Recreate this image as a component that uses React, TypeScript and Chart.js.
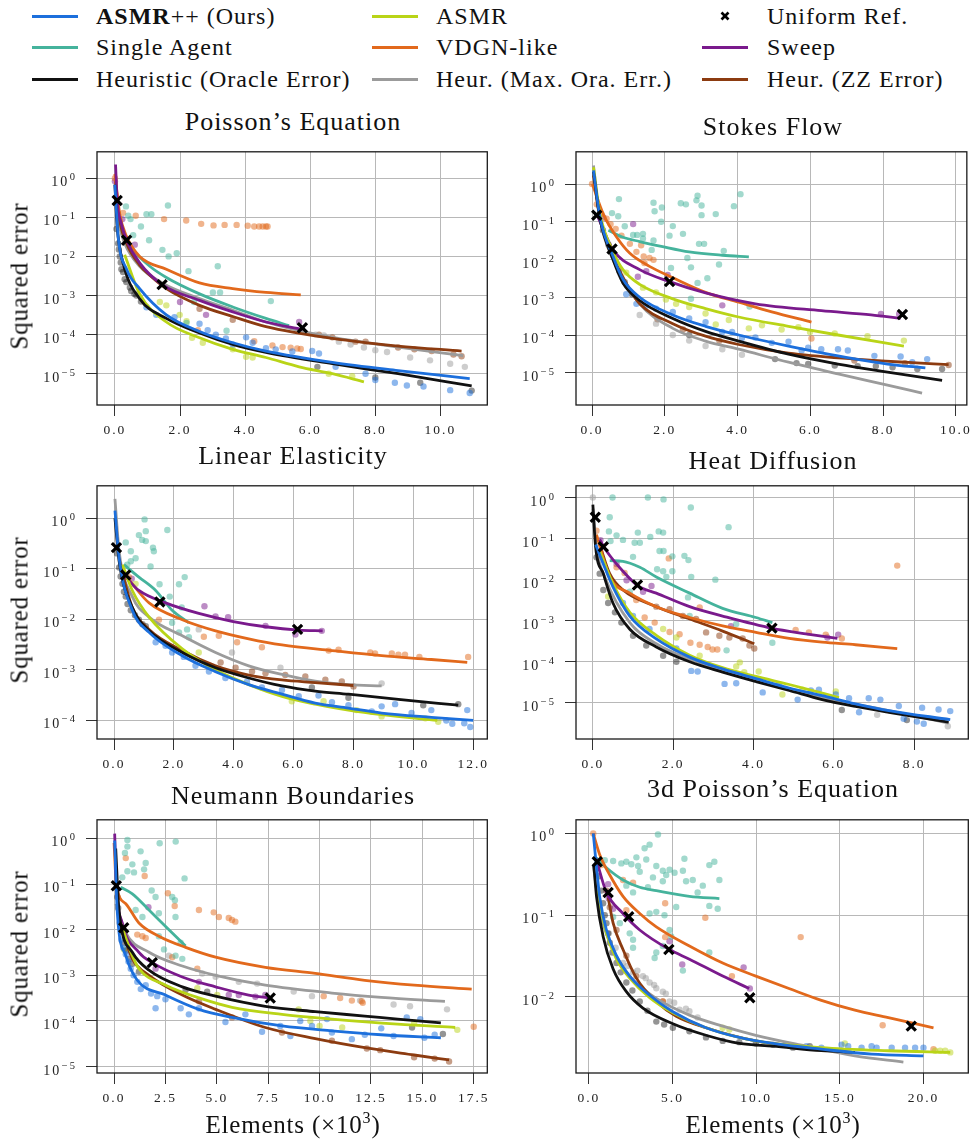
import React, { useEffect, useRef } from "react";
import { Chart, registerables } from "chart.js";

Chart.register(...registerables);

type Pt = [number, number];

// ---------------- methods ----------------
const METHOD_LABELS = [
  "ASMR++ (Ours)",
  "Single Agent",
  "Heuristic (Oracle Error)",
  "ASMR",
  "VDGN-like",
  "Heur. (Max. Ora. Err.)",
  "Sweep",
  "Heur. (ZZ Error)",
];
const METHOD_COLORS = ["#1c6fdc", "#45b39c", "#111111", "#b9d417", "#e2691c", "#9b9b9b", "#7a1a8c", "#8c3b10"];
const UNIFORM_LABEL = "Uniform Ref.";

// ---------------- Poisson's Equation ----------------
const P1_X_TICKS = [0, 2, 4, 6, 8, 10];
const P1_Y_EXPS = [0, -1, -2, -3, -4, -5];
const P1_FIT_ASMRPP: Pt[] = [[0, 0.68], [0.1, 0.032], [0.36, 0.0047], [0.76, 0.0015], [1.58, 3.2e-4], [2.6, 1.2e-4], [3.62, 6.2e-5], [4.64, 3.8e-5], [6.68, 1.95e-5], [8.7, 1.2e-5], [10.9, 7.5e-6]];
const P1_FIT_SINGLE: Pt[] = [[0.15, 0.09], [0.25, 0.038], [0.56, 0.0146], [1.07, 0.0056], [1.58, 0.0029], [2.6, 0.0011], [3.62, 5.1e-4], [4.64, 2.6e-4], [5.35, 1.7e-4]];
const P1_FIT_ORACLE: Pt[] = [[0, 0.68], [0.07, 0.056], [0.25, 0.0068], [0.76, 8.3e-4], [1.58, 2.6e-4], [2.6, 1.1e-4], [3.62, 5.6e-5], [4.64, 3.5e-5], [6.68, 1.8e-5], [8.7, 1e-5], [10.96, 4.9e-6]];
const P1_FIT_ASMR: Pt[] = [[0.3, 0.011], [0.76, 0.0011], [1.58, 2.1e-4], [2.6, 8.3e-5], [3.62, 4.2e-5], [4.64, 2.6e-5], [5.66, 1.5e-5], [6.68, 1.0e-5], [7.65, 6.2e-6]];
const P1_FIT_VDGN: Pt[] = [[0, 1.3], [0.15, 0.12], [0.36, 0.032], [0.76, 0.01], [1.58, 0.0047], [2.6, 0.0021], [3.62, 0.0015], [4.64, 0.0012], [5.71, 0.00104]];
const P1_FIT_MAXORA: Pt[] = [[0.03, 0.12], [0.3, 0.0215], [0.76, 0.0056], [1.45, 0.0021], [2.6, 8.3e-4], [3.62, 4.2e-4], [4.64, 2.1e-4], [5.66, 1.26e-4], [6.68, 8.5e-5], [8.7, 4.8e-5], [10.7, 2.9e-5]];
const P1_FIT_SWEEP: Pt[] = [[0.02, 2.24], [0.07, 0.27], [0.2, 0.068], [0.36, 0.026], [0.76, 0.0068], [1.45, 0.0019], [2.6, 7.5e-4], [3.62, 3.8e-4], [4.64, 2.1e-4], [5.76, 1.35e-4]];
const P1_FIT_ZZ: Pt[] = [[0.02, 0.83], [0.15, 0.083], [0.36, 0.0215], [0.76, 0.006], [1.07, 0.0033], [1.58, 0.0015], [2.6, 5.6e-4], [3.62, 2.9e-4], [4.64, 1.6e-4], [6.68, 8e-5], [8.7, 5.1e-5], [10.65, 3.8e-5]];
const P1_UNIFORM: Pt[] = [[0.07, 0.27], [0.36, 0.026], [1.45, 0.0019], [5.76, 1.5e-4]];
const P1_PTS_ASMRPP: Pt[] = [[0.97, 5e-4], [1.27, 3.2e-4], [1.83, 2.8e-4], [2.6, 1.9e-4], [2.85, 1.3e-4], [3.1, 1e-4], [3.41, 8e-5], [3.62, 5.6e-5], [4.03, 8.5e-5], [4.23, 6.2e-5], [4.64, 4.5e-5], [4.94, 4.2e-5], [5.45, 3.7e-5], [6.06, 3.8e-5], [6.27, 3.3e-5], [6.78, 1.5e-5], [7.7, 1e-5], [8.0, 6.9e-6], [8.6, 5.9e-6], [8.97, 5e-6], [9.48, 4.7e-6], [10.3, 3.8e-6], [10.9, 3.2e-6]];
const P1_PTS_SINGLE: Pt[] = [[0.34, 0.19], [0.41, 0.11], [0.48, 0.09], [0.97, 0.12], [1.12, 0.12], [1.63, 0.2], [0.8, 0.058], [0.56, 0.035], [1.05, 0.026], [1.46, 0.0147], [1.65, 0.01], [1.9, 0.012], [3.16, 0.0056], [2.26, 0.0042], [3.01, 0.0012], [3.23, 0.0012], [4.79, 7.2e-4], [2.43, 6.8e-4], [3.43, 1.26e-4], [2.2, 2e-4]];
const P1_PTS_ORACLE: Pt[] = [[0.05, 0.05], [0.1, 0.0215], [0.12, 0.015], [0.15, 0.01], [0.18, 0.007], [0.2, 0.0047], [0.25, 0.004], [0.3, 0.0026], [0.35, 0.0022], [0.46, 0.0016], [0.5, 0.0013], [0.6, 0.0011], [0.66, 0.001], [0.8, 7e-4], [6.22, 1.5e-5], [8.0, 8e-6], [9.38, 5.9e-6], [10.96, 3.7e-6]];
const P1_PTS_ASMR: Pt[] = [[1.38, 6.8e-4], [1.58, 5.6e-4], [1.99, 3.2e-4], [2.2, 2.2e-4], [2.37, 8.3e-5], [2.7, 6.2e-5], [3.62, 4.2e-5], [4.03, 2.7e-5], [4.23, 2.6e-5], [6.57, 1e-5], [7.29, 8.6e-6]];
const P1_PTS_VDGN: Pt[] = [[0, 1.0], [0.25, 0.13], [0.64, 0.11], [1.51, 0.09], [2.19, 0.083], [2.65, 0.068], [3.03, 0.062], [3.37, 0.064], [3.74, 0.064], [4.08, 0.061], [4.28, 0.058], [4.43, 0.058], [4.54, 0.058], [4.64, 0.058], [4.69, 0.058], [2.55, 1.3e-4], [4.28, 6.8e-5], [4.84, 5.3e-5], [5.15, 4.8e-5], [5.4, 4.6e-5], [5.6, 4.4e-5], [5.71, 4.3e-5]];
const P1_PTS_MAXORA: Pt[] = [[6.17, 1e-4], [6.42, 9.5e-5], [6.88, 6.6e-5], [7.24, 5.6e-5], [7.65, 4.7e-5], [8.0, 4.0e-5], [8.36, 3.6e-5], [9.07, 2.6e-5], [9.68, 2.2e-5], [10.3, 1.8e-5], [10.75, 1.5e-5]];
const P1_PTS_SWEEP: Pt[] = [[0, 0.83], [0.23, 0.09], [0.61, 0.02], [2.0, 6.8e-4], [2.8, 3.2e-4], [5.66, 2.1e-4]];
const P1_PTS_ZZ: Pt[] = [[2.6, 4.6e-4], [3.62, 2.4e-4], [6.27, 1e-4], [6.68, 8.5e-5], [7.39, 6.6e-5], [7.7, 6.6e-5], [8.7, 4.7e-5], [9.2, 4.2e-5], [9.73, 3.8e-5], [10.4, 3.1e-5], [10.65, 2.8e-5]];

// ---------------- Stokes Flow ----------------
const P2_X_TICKS = [0, 2, 4, 6, 8, 10];
const P2_Y_EXPS = [0, -1, -2, -3, -4, -5];
const P2_FIT_ASMRPP: Pt[] = [[0.04, 2.3], [0.22, 0.13], [0.58, 0.012], [0.85, 0.003], [1.31, 0.001], [2.22, 3.4e-4], [3.12, 1.7e-4], [4.03, 1.0e-4], [5.4, 5.1e-5], [6.76, 2.8e-5], [8.12, 1.7e-5], [9.16, 1.35e-5]];
const P2_FIT_SINGLE: Pt[] = [[0.45, 0.06], [0.85, 0.039], [1.31, 0.03], [1.94, 0.022], [2.67, 0.016], [3.58, 0.013], [4.31, 0.0117]];
const P2_FIT_ORACLE: Pt[] = [[0.04, 2.1], [0.22, 0.12], [0.58, 0.0098], [0.85, 0.0024], [1.31, 8.2e-4], [2.22, 2.75e-4], [3.12, 1.25e-4], [4.03, 6.9e-5], [5.4, 3.1e-5], [6.76, 1.7e-5], [8.12, 1.04e-5], [9.62, 6.3e-6]];
const P2_FIT_ASMR: Pt[] = [[0.04, 2.8], [0.22, 0.16], [0.58, 0.016], [0.85, 0.0054], [1.31, 0.0022], [2.22, 9.1e-4], [3.12, 5e-4], [4.03, 3e-4], [5.4, 1.7e-4], [6.76, 1.0e-4], [8.57, 5.1e-5]];
const P2_FIT_VDGN: Pt[] = [[0.01, 1.0], [0.31, 0.16], [0.67, 0.04], [1.04, 0.0146], [1.58, 0.0066], [2.22, 0.0033], [3.12, 0.00135], [4.03, 7.4e-4], [4.94, 4.1e-4], [6.03, 2.2e-4]];
const P2_FIT_MAXORA: Pt[] = [[0.04, 3.1], [0.22, 0.12], [0.58, 0.0098], [1.31, 6.7e-4], [2.22, 1.5e-4], [3.12, 6.9e-5], [4.03, 4.2e-5], [5.4, 1.9e-5], [6.76, 9.3e-6], [8.12, 4.7e-6], [9.07, 2.9e-6]];
const P2_FIT_SWEEP: Pt[] = [[0.13, 0.16], [0.58, 0.018], [1.31, 0.0054], [2.13, 0.0026], [3.12, 0.0013], [4.49, 6.7e-4], [6.3, 4.4e-4], [7.67, 3.4e-4], [8.48, 2.75e-4]];
const P2_FIT_ZZ: Pt[] = [[0.04, 1.7], [0.22, 0.12], [0.58, 0.012], [1.04, 0.0016], [1.31, 6.7e-4], [2.22, 2.0e-4], [3.12, 9.3e-5], [4.03, 5.6e-5], [5.4, 3.3e-5], [7.21, 2.3e-5], [8.57, 1.9e-5], [9.8, 1.65e-5]];
const P2_UNIFORM: Pt[] = [[0.13, 0.15], [0.55, 0.019], [2.13, 0.0026], [8.53, 3.5e-4]];
const P2_PTS_ASMRPP: Pt[] = [[0.94, 1.2e-3], [1.22, 6.7e-4], [1.49, 6e-4], [1.76, 5e-4], [2.22, 4.1e-4], [2.67, 2.75e-4], [3.12, 2.2e-4], [3.58, 1.2e-4], [3.85, 1.2e-4], [4.12, 8.3e-5], [4.49, 8.6e-5], [4.94, 6.2e-5], [5.4, 6.6e-5], [5.76, 3.9e-5], [5.94, 4.6e-5], [6.3, 4.2e-5], [6.76, 4.2e-5], [7.03, 3.9e-5], [7.76, 2.8e-5], [8.48, 2.7e-5], [8.8, 1.9e-5], [9.21, 2.3e-5]];
const P2_PTS_SINGLE: Pt[] = [[0.74, 0.4], [0.55, 0.17], [0.72, 0.14], [0.9, 0.076], [1.13, 0.045], [1.24, 0.045], [1.4, 0.036], [1.4, 0.048], [1.69, 0.32], [1.72, 0.19], [1.92, 0.24], [1.9, 0.1], [2.13, 0.043], [2.22, 0.077], [2.44, 0.31], [2.58, 0.29], [2.5, 0.048], [2.9, 0.49], [2.87, 0.37], [3.01, 0.27], [3.01, 0.15], [3.4, 0.16], [3.9, 0.26], [4.08, 0.54], [2.94, 0.026], [3.08, 0.026], [3.62, 0.017], [3.49, 0.0074], [2.62, 0.011], [2.72, 0.0062], [2.17, 0.006], [3.17, 0.0032], [2.9, 0.0024], [2.72, 9.1e-4], [4.33, 5.7e-4], [1.69, 0.032], [1.64, 0.018]];
const P2_PTS_ORACLE: Pt[] = [[0.3, 0.06], [0.45, 0.025], [0.6, 0.012], [0.75, 0.005], [0.9, 0.0025], [1.1, 0.0012], [2.67, 1e-4], [5.03, 2.3e-5], [5.62, 1.8e-5], [5.94, 1.7e-5], [6.67, 1.55e-5], [7.3, 1.5e-5], [7.8, 1.5e-5], [8.26, 1.4e-5], [8.94, 1.26e-5], [9.62, 1.26e-5]];
const P2_PTS_ASMR: Pt[] = [[0.94, 0.0045], [1.4, 0.0018], [1.76, 0.00135], [2.03, 8.7e-4], [2.31, 6.7e-4], [2.67, 5.5e-4], [3.12, 3.7e-4], [3.4, 1.9e-4], [3.76, 2.5e-4], [4.31, 1.5e-4], [4.67, 1.8e-4], [5.21, 1.4e-4], [5.67, 1.6e-4], [5.99, 1.2e-4], [6.67, 1.1e-4], [7.57, 9.3e-5], [8.57, 7.1e-5]];
const P2_PTS_VDGN: Pt[] = [[0.0, 1.0], [0.13, 0.29], [0.26, 0.16], [0.4, 0.12], [0.51, 0.087], [0.65, 0.065], [0.81, 0.043], [1.04, 0.026], [1.22, 0.016], [1.35, 0.024], [1.42, 0.012], [1.44, 0.0081], [1.58, 0.011], [1.69, 0.0098], [6.03, 8.1e-5]];
const P2_PTS_MAXORA: Pt[] = [[1.31, 3.4e-4], [1.76, 2.0e-4], [2.22, 1.0e-4], [2.67, 7.1e-5], [3.12, 5.1e-5], [3.58, 4.2e-5], [4.12, 3e-5]];
const P2_PTS_SWEEP: Pt[] = [[0.31, 0.13], [1.13, 0.087], [1.26, 0.0035], [1.49, 0.0049], [2.08, 0.0039], [3.58, 6.1e-4], [7.94, 3.6e-4], [8.44, 3.6e-4]];
const P2_PTS_ZZ: Pt[] = [[1.8, 2.6e-4], [2.5, 1.4e-4], [3.5, 7e-5], [7.21, 2.1e-5], [8.6, 1.8e-5], [9.8, 1.6e-5]];

// ---------------- Linear Elasticity ----------------
const P3_X_TICKS = [0, 2, 4, 6, 8, 10, 12];
const P3_Y_EXPS = [0, -1, -2, -3, -4];
const P3_FIT_ASMRPP: Pt[] = [[0.03, 1.4], [0.17, 0.16], [0.61, 0.015], [1.17, 0.0055], [2.28, 0.0019], [3.39, 9.2e-4], [4.5, 5.1e-4], [5.61, 3.3e-4], [6.72, 2.2e-4], [7.83, 1.75e-4], [8.94, 1.4e-4], [10.6, 1.15e-4], [12.0, 1.0e-4]];
const P3_FIT_SINGLE: Pt[] = [[0.33, 0.12], [0.83, 0.068], [1.39, 0.037], [1.94, 0.015], [2.5, 0.0085]];
const P3_FIT_ORACLE: Pt[] = [[0.03, 1.0], [0.17, 0.14], [0.61, 0.017], [1.17, 0.0059], [2.28, 0.0022], [3.39, 0.0011], [4.5, 6.9e-4], [5.61, 4.8e-4], [6.72, 3.8e-4], [7.83, 3.3e-4], [9.5, 2.6e-4], [11.5, 2.0e-4]];
const P3_FIT_ASMR: Pt[] = [[0.28, 0.12], [0.61, 0.037], [1.17, 0.011], [2.28, 0.0026], [3.39, 0.001], [4.5, 5.1e-4], [5.61, 3.0e-4], [6.72, 2.1e-4], [7.83, 1.6e-4], [8.94, 1.3e-4], [10.8, 1.0e-4]];
const P3_FIT_VDGN: Pt[] = [[0.39, 0.075], [0.61, 0.05], [1.17, 0.021], [2.28, 0.0098], [3.39, 0.0059], [4.5, 0.0041], [5.61, 0.0031], [7.28, 0.0024], [8.94, 0.0019], [10.6, 0.0016], [11.8, 0.0014]];
const P3_FIT_MAXORA: Pt[] = [[0.03, 2.4], [0.17, 0.22], [0.61, 0.028], [1.17, 0.011], [2.28, 0.0047], [3.39, 0.0022], [4.5, 0.0012], [5.61, 8.1e-4], [6.72, 6.0e-4], [7.83, 5.1e-4], [8.94, 4.8e-4]];
const P3_FIT_SWEEP: Pt[] = [[0.39, 0.068], [0.83, 0.037], [1.72, 0.021], [2.83, 0.013], [3.94, 0.0091], [5.06, 0.0071], [6.17, 0.0061], [6.97, 0.0059]];
const P3_FIT_ZZ: Pt[] = [[0.17, 0.15], [0.61, 0.017], [1.17, 0.0063], [2.28, 0.0024], [3.39, 0.0012], [4.5, 7.9e-4], [5.61, 6.3e-4], [6.72, 5.6e-4], [8.0, 4.9e-4]];
const P3_UNIFORM: Pt[] = [[0.08, 0.26], [0.39, 0.075], [1.53, 0.022], [6.13, 0.0063]];
const P3_PTS_ASMRPP: Pt[] = [[1.39, 0.0035], [1.72, 0.003], [1.94, 0.0022], [2.33, 0.0018], [2.72, 0.0012], [3.17, 9.3e-4], [3.72, 6.9e-4], [4.44, 5.8e-4], [4.94, 4.5e-4], [5.61, 4e-4], [6.17, 3e-4], [6.83, 3.1e-4], [7.28, 2.3e-4], [7.83, 2e-4], [8.61, 1.5e-4], [8.94, 1.9e-4], [9.39, 2.1e-4], [9.94, 1.4e-4], [10.6, 1.6e-4], [11.1, 1e-4], [11.3, 8.6e-5], [11.7, 8.8e-5], [11.8, 1.6e-4], [11.9, 7.4e-5]];
const P3_PTS_SINGLE: Pt[] = [[0.39, 0.33], [0.56, 0.22], [0.56, 0.14], [0.44, 0.12], [0.72, 0.16], [0.83, 0.46], [0.94, 0.37], [1.02, 0.94], [1.06, 0.55], [1.06, 0.35], [1.3, 0.26], [1.33, 0.22], [1.22, 0.11], [1.78, 0.58], [1.52, 0.049], [1.86, 0.028], [2.17, 0.049], [2.36, 0.068], [2.26, 0.017], [1.94, 0.0085], [2.17, 0.0055], [2.44, 0.0063], [2.5, 0.0044]];
const P3_PTS_ORACLE: Pt[] = [[0.1, 0.2], [0.17, 0.105], [0.22, 0.07], [0.28, 0.05], [0.33, 0.035], [0.39, 0.028], [0.45, 0.02], [0.56, 0.015], [0.7, 0.012], [0.83, 0.0098], [0.95, 0.008], [1.06, 0.0073], [6.61, 4.5e-4], [7.83, 2.8e-4], [10.33, 2e-4], [11.5, 2.1e-4]];
const P3_PTS_ASMR: Pt[] = [[0.72, 0.05], [2.83, 0.0022], [5.94, 2.4e-4], [7.0, 2.4e-4], [8.1, 1.6e-4], [8.94, 1.2e-4], [10.4, 1.1e-4], [10.83, 9.4e-5]];
const P3_PTS_VDGN: Pt[] = [[0.5, 0.068], [1.5, 0.0098], [3.0, 0.0045], [3.5, 0.0047], [4.11, 0.0035], [4.94, 0.0028], [7.17, 0.0024], [7.5, 0.0025], [8.56, 0.0022], [8.72, 0.0021], [9.28, 0.0021], [9.5, 0.002], [9.72, 0.002], [10.2, 0.0018], [11.83, 0.0018]];
const P3_PTS_MAXORA: Pt[] = [[2.83, 0.0063], [3.94, 0.0022], [5.56, 0.0011], [8.94, 5.4e-4]];
const P3_PTS_SWEEP: Pt[] = [[0.59, 0.063], [3.02, 0.018], [3.39, 0.0114], [3.81, 0.011], [5.06, 0.0074], [6.06, 0.005], [6.94, 0.0059]];
const P3_PTS_ZZ: Pt[] = [[3.56, 0.0014], [4.06, 0.0011], [4.61, 9.3e-4], [5.06, 8.6e-4], [5.72, 7.9e-4], [6.39, 7.4e-4], [7.06, 6.4e-4], [7.61, 5.9e-4], [8.0, 4.7e-4]];

// ---------------- Heat Diffusion ----------------
const P4_X_TICKS = [0, 2, 4, 6, 8];
const P4_Y_EXPS = [0, -1, -2, -3, -4, -5];
const P4_FIT_ASMRPP: Pt[] = [[0.07, 0.072], [0.26, 0.024], [0.5, 0.0067], [0.92, 0.0013], [1.58, 3.6e-4], [2.41, 1.3e-4], [3.23, 6.7e-5], [4.06, 3.9e-5], [4.89, 2.3e-5], [5.71, 1.5e-5], [6.54, 9.5e-6], [7.37, 6.5e-6], [8.9, 3.9e-6]];
const P4_FIT_SINGLE: Pt[] = [[0.42, 0.029], [0.75, 0.028], [1.17, 0.02], [1.58, 0.0116], [2.41, 0.0047], [3.23, 0.002], [4.06, 0.0012], [4.47, 9e-4]];
const P4_FIT_ORACLE: Pt[] = [[0.0, 0.67], [0.07, 0.06], [0.26, 0.014], [0.5, 0.0027], [0.92, 6.2e-4], [1.58, 2.3e-4], [2.41, 1.0e-4], [3.23, 5.6e-5], [4.06, 3.3e-5], [4.89, 2.0e-5], [5.71, 1.2e-5], [6.54, 8.2e-6], [7.37, 5.9e-6], [8.86, 3.4e-6]];
const P4_FIT_ASMR: Pt[] = [[0.17, 0.05], [0.5, 0.008], [0.92, 0.0016], [1.58, 4.4e-4], [2.41, 1.45e-4], [3.23, 7.2e-5], [4.06, 4.4e-5], [4.89, 2.8e-5], [6.13, 1.35e-5]];
const P4_FIT_VDGN: Pt[] = [[0.09, 0.125], [0.42, 0.0115], [0.92, 0.0047], [1.58, 0.0022], [2.41, 0.0012], [3.23, 7.5e-4], [4.06, 5.2e-4], [4.89, 3.7e-4], [5.71, 3.0e-4], [6.54, 2.6e-4], [7.58, 2.1e-4]];
const P4_FIT_MAXORA: Pt[] = [[0.0, 0.54], [0.09, 0.06], [0.3, 0.0115], [0.92, 9e-4], [1.58, 2.75e-4], [2.41, 1.15e-4], [3.23, 6.3e-5], [4.06, 3.7e-5], [5.71, 1.35e-5], [7.37, 6.5e-6], [8.86, 3.2e-6]];
const P4_FIT_SWEEP: Pt[] = [[0.17, 0.095], [0.34, 0.05], [0.75, 0.016], [1.12, 0.0071], [1.58, 0.0047], [2.41, 0.0022], [3.23, 0.0013], [4.47, 6.5e-4], [5.3, 4.8e-4], [6.09, 3.7e-4]];
const P4_FIT_ZZ: Pt[] = [[0.17, 0.072], [0.42, 0.014], [0.75, 0.0056], [1.58, 0.0022], [2.41, 0.0011], [3.23, 5.6e-4], [4.02, 2.75e-4]];
const P4_UNIFORM: Pt[] = [[0.06, 0.33], [0.26, 0.063], [1.11, 0.0074], [4.46, 6.6e-4]];
const P4_PTS_ASMRPP: Pt[] = [[0.75, 0.0027], [1.0, 0.0013], [1.41, 6.3e-4], [2.08, 2.1e-4], [2.45, 6e-5], [2.61, 5.8e-5], [3.28, 2.9e-5], [3.57, 3e-5], [4.23, 1.8e-5], [4.64, 2.8e-5], [5.1, 1.2e-5], [5.43, 2e-5], [5.63, 2.1e-5], [6.05, 1.6e-5], [6.38, 1.3e-5], [6.63, 5.9e-6], [6.87, 1.3e-5], [7.16, 1.2e-5], [7.62, 8.4e-6], [7.74, 4.1e-6], [8.07, 3.5e-6], [8.2, 7.6e-6], [8.24, 3.1e-6], [8.61, 6.9e-6], [8.9, 6.3e-6]];
const P4_PTS_SINGLE: Pt[] = [[0.49, 1.0], [1.37, 1.0], [1.76, 0.9], [2.44, 0.57], [3.38, 0.19], [0.42, 0.33], [0.4, 0.15], [0.44, 0.087], [0.59, 0.12], [0.75, 0.093], [1.04, 0.079], [1.17, 0.079], [1.12, 0.14], [1.43, 0.11], [1.64, 0.15], [1.75, 0.14], [1.66, 0.05], [1.76, 0.05], [2.28, 0.038], [2.38, 0.03], [1.0, 0.036], [1.6, 0.018], [1.75, 0.016], [1.83, 0.0117], [1.98, 0.016], [2.45, 0.0117], [3.05, 0.01], [1.98, 0.037], [2.37, 0.0037], [2.41, 0.0013], [3.57, 8.3e-4], [3.33, 1.9e-4], [4.47, 2.9e-4], [0.92, 0.0051]];
const P4_PTS_ORACLE: Pt[] = [[0.09, 0.035], [0.17, 0.014], [0.26, 0.0056], [0.38, 0.0027], [0.55, 0.0016], [0.71, 9e-4], [1.0, 4.3e-4], [1.33, 2.5e-4], [1.75, 1.4e-4], [2.08, 1e-4], [6.2, 6.7e-6], [7.82, 3.8e-6]];
const P4_PTS_ASMR: Pt[] = [[0.38, 0.0039], [1.75, 6.3e-4], [2.08, 3.9e-4], [2.66, 1.4e-4], [3.57, 7.7e-5], [3.66, 9.7e-5], [3.77, 5.6e-5], [4.13, 5.8e-5], [4.72, 1.6e-5], [5.22, 2.1e-5], [6.05, 1.9e-5]];
const P4_PTS_VDGN: Pt[] = [[0.09, 0.155], [0.59, 0.02], [0.79, 0.0145], [1.89, 0.033], [7.58, 0.022], [1.08, 0.0032], [1.29, 0.0012], [1.54, 9e-4], [1.91, 5.3e-4], [2.16, 4.7e-4], [2.43, 2.9e-4], [2.66, 2.6e-4], [2.86, 2.3e-4], [2.98, 2e-4], [3.1, 2e-4], [2.66, 0.0021], [5.05, 6e-4], [5.38, 5.2e-4], [5.8, 4.6e-4], [6.2, 3.7e-4]];
const P4_PTS_MAXORA: Pt[] = [[0.0, 1.0], [7.08, 5.1e-6], [8.84, 2.7e-6]];
const P4_PTS_SWEEP: Pt[] = [[0.19, 0.092], [0.59, 0.024], [0.84, 0.0097], [1.25, 0.0051], [1.46, 0.007], [3.44, 7.4e-4], [5.84, 3.9e-4], [6.11, 4.6e-4]];
const P4_PTS_ZZ: Pt[] = [[1.58, 0.0022], [1.91, 0.0019], [2.24, 0.0013], [2.57, 0.0011], [2.82, 5.2e-4], [3.15, 4.3e-4], [3.4, 3.9e-4], [3.73, 3.7e-4], [3.9, 2.5e-4], [4.02, 2.1e-4]];

// ---------------- Neumann Boundaries ----------------
const P5_X_TICKS = [0, 2.5, 5, 7.5, 10, 12.5, 15, 17.5];
const P5_Y_EXPS = [0, -1, -2, -3, -4, -5];
const P5_FIT_ASMRPP: Pt[] = [[0.03, 0.9], [0.16, 0.023], [0.57, 0.0027], [1.13, 7.8e-4], [2.51, 3.7e-4], [4.13, 1.8e-4], [5.74, 1.2e-4], [8.17, 7.8e-5], [10.6, 6.1e-5], [13.0, 5e-5], [15.9, 4.3e-5]];
const P5_FIT_SINGLE: Pt[] = [[0.32, 0.085], [0.89, 0.061], [1.7, 0.027], [2.51, 0.0118], [3.48, 0.0044]];
const P5_FIT_ORACLE: Pt[] = [[0.08, 0.6], [0.24, 0.027], [0.89, 0.0032], [1.7, 0.0013], [3.32, 5.6e-4], [4.94, 3.5e-4], [7.36, 2.1e-4], [9.79, 1.6e-4], [12.2, 1.28e-4], [13.8, 1.1e-4], [15.9, 9.1e-5]];
const P5_FIT_ASMR: Pt[] = [[0.32, 0.014], [0.89, 0.0027], [1.21, 0.0014], [2.51, 6.1e-4], [4.13, 3.2e-4], [5.74, 2.0e-4], [8.17, 1.4e-4], [10.6, 1.1e-4], [13.8, 8.5e-5], [16.6, 7.2e-5]];
const P5_FIT_VDGN: Pt[] = [[0.0, 0.8], [0.11, 0.1], [0.57, 0.037], [1.21, 0.014], [2.18, 0.0072], [3.48, 0.0041], [4.94, 0.0025], [7.36, 0.0015], [9.79, 0.0011], [12.2, 7.8e-4], [14.6, 6.1e-4], [17.4, 5.0e-4]];
const P5_FIT_MAXORA: Pt[] = [[0.08, 0.037], [0.57, 0.0085], [1.7, 0.0032], [3.32, 0.0016], [4.94, 0.001], [7.36, 6.1e-4], [10.6, 4.1e-4], [13.0, 3.3e-4], [16.1, 2.7e-4]];
const P5_FIT_SWEEP: Pt[] = [[0.03, 1.27], [0.11, 0.1], [0.4, 0.014], [1.21, 0.0032], [1.86, 0.0019], [3.32, 9.2e-4], [4.94, 5.6e-4], [6.55, 3.7e-4], [7.6, 3.2e-4]];
const P5_FIT_ZZ: Pt[] = [[0.24, 0.016], [0.89, 0.0023], [1.7, 0.001], [3.32, 3.7e-4], [4.94, 1.8e-4], [7.36, 7.2e-5], [9.79, 4.1e-5], [12.2, 2.6e-5], [14.6, 1.8e-5], [16.3, 1.4e-5]];
const P5_UNIFORM: Pt[] = [[0.11, 0.092], [0.47, 0.011], [1.86, 0.0019], [7.6, 3.2e-4]];
const P5_PTS_ASMRPP: Pt[] = [[0.35, 0.006], [0.45, 0.004], [0.57, 0.0029], [0.7, 0.002], [0.81, 0.0014], [0.95, 0.001], [1.13, 7.2e-4], [1.3, 5e-4], [1.54, 6.1e-4], [1.8, 4e-4], [2.1, 3.5e-4], [2.02, 1.9e-4], [2.5, 3e-4], [3.24, 1.9e-4], [3.64, 1.4e-4], [4.13, 1.9e-4], [5.42, 9.5e-5], [6.39, 1.4e-4], [7.2, 5.8e-5], [8.09, 7.8e-5], [8.58, 4.7e-5], [9.06, 1e-4], [9.63, 7.8e-5], [10.36, 1.1e-4], [10.6, 5.6e-5], [11.57, 4e-5], [12.2, 5e-5], [13.0, 6.9e-5], [13.6, 4.7e-5], [14.24, 1.2e-4], [14.9, 1.1e-4], [15.1, 4.3e-5], [15.6, 5e-5]];
const P5_PTS_SINGLE: Pt[] = [[0.65, 0.92], [0.65, 0.66], [2.22, 0.78], [3.0, 0.85], [0.53, 0.48], [1.29, 0.52], [0.89, 0.27], [0.97, 0.18], [1.54, 0.29], [0.65, 0.19], [0.4, 0.14], [1.46, 0.21], [1.83, 0.072], [2.02, 0.052], [2.83, 0.052], [2.96, 0.044], [3.43, 0.133], [1.38, 0.019], [1.05, 0.027], [2.18, 0.023], [2.99, 0.019], [3.24, 0.0052], [3.32, 0.0023], [2.99, 0.0027], [2.43, 0.0037], [2.18, 0.0072]];
const P5_PTS_ORACLE: Pt[] = [[0.16, 0.052], [0.2, 0.03], [0.28, 0.014], [0.35, 0.009], [0.49, 0.0052], [0.6, 0.0035], [0.73, 0.0023], [0.9, 0.0018], [1.21, 0.0012], [3.48, 4.8e-4], [4.53, 4.4e-4], [14.5, 7.2e-5], [16.0, 5.2e-5]];
const P5_PTS_ASMR: Pt[] = [[0.49, 0.0037], [4.05, 5.2e-4], [5.02, 3.7e-4], [8.98, 1.8e-4], [9.55, 1e-4], [10.0, 7.8e-5], [11.1, 7.2e-5], [14.6, 9.3e-5], [16.7, 6.4e-5]];
const P5_PTS_VDGN: Pt[] = [[0.57, 0.37], [1.49, 0.15], [2.62, 0.063], [2.95, 0.033], [4.13, 0.027], [4.85, 0.024], [5.1, 0.019], [5.58, 0.018], [5.74, 0.0163], [5.9, 0.015], [1.13, 0.0078], [1.38, 0.0072], [1.54, 0.0066], [2.83, 0.0025], [4.05, 0.0014], [10.2, 3.5e-4], [11.0, 3.2e-4], [11.57, 2.8e-4], [12.05, 2.7e-4], [12.1, 2.5e-4], [17.5, 7.5e-5]];
const P5_PTS_MAXORA: Pt[] = [[2.67, 0.0027], [4.29, 0.0011], [4.94, 9.3e-4], [6.07, 7.2e-4], [6.96, 6.6e-4], [8.74, 4.4e-4], [9.63, 3.5e-4], [11.97, 2.8e-4], [13.6, 2.3e-4], [14.4, 2.1e-4], [16.2, 1.8e-4]];
const P5_PTS_SWEEP: Pt[] = [[1.67, 0.031], [2.02, 0.0014], [4.13, 7.2e-4], [5.58, 3.7e-4], [6.07, 3.7e-4], [6.88, 3.4e-4], [7.36, 3.7e-4]];
const P5_PTS_ZZ: Pt[] = [[4.13, 2.7e-4], [5.74, 1.2e-4], [8.17, 5.6e-5], [10.6, 3.7e-5], [12.3, 2.5e-5], [12.95, 2.3e-5], [14.6, 1.6e-5], [15.6, 1.5e-5], [16.3, 1.3e-5]];

// ---------------- 3d Poisson's Equation ----------------
const P6_X_TICKS = [0, 5, 10, 15, 20];
const P6_Y_EXPS = [0, -1, -2];
const P6_FIT_ASMRPP: Pt[] = [[0.26, 1.0], [0.65, 0.166], [1.05, 0.066], [1.65, 0.032], [2.44, 0.018], [3.63, 0.0105], [5.02, 0.0066], [7.0, 0.0042], [8.99, 0.0032], [11.0, 0.0027], [13.9, 0.0023], [16.9, 0.002], [20.0, 0.0019]];
const P6_FIT_SINGLE: Pt[] = [[0.46, 0.5], [1.05, 0.38], [2.04, 0.27], [3.04, 0.22], [4.03, 0.2], [6.01, 0.17], [7.8, 0.16]];
const P6_FIT_ORACLE: Pt[] = [[0.3, 0.4], [0.46, 0.166], [0.85, 0.055], [1.45, 0.022], [2.24, 0.0116], [3.23, 0.0073], [5.02, 0.0047], [7.0, 0.0034], [8.99, 0.0027], [11.0, 0.0025], [13.9, 0.0022], [15.9, 0.0021]];
const P6_FIT_ASMR: Pt[] = [[0.5, 0.2], [1.05, 0.06], [1.65, 0.029], [2.44, 0.017], [3.63, 0.0098], [5.02, 0.0064], [7.0, 0.0042], [9.98, 0.0029], [13.9, 0.0024], [17.9, 0.0022], [21.6, 0.0021]];
const P6_FIT_VDGN: Pt[] = [[0.26, 1.0], [0.65, 0.55], [1.25, 0.31], [2.04, 0.17], [3.04, 0.105], [4.03, 0.072], [6.01, 0.042], [8.0, 0.026], [9.98, 0.018], [12.0, 0.0126], [13.9, 0.0091], [15.9, 0.0069], [17.9, 0.0056], [20.6, 0.0042]];
const P6_FIT_MAXORA: Pt[] = [[0.26, 0.41], [0.65, 0.115], [1.45, 0.038], [2.44, 0.018], [4.03, 0.0096], [6.01, 0.006], [8.0, 0.0044], [9.98, 0.0034], [13.0, 0.0025], [15.9, 0.0019], [18.8, 0.0016]];
const P6_FIT_SWEEP: Pt[] = [[0.42, 0.5], [1.05, 0.19], [2.04, 0.105], [3.04, 0.066], [4.82, 0.038], [6.01, 0.029], [8.0, 0.018], [9.58, 0.0127]];
const P6_FIT_ZZ: Pt[] = [[1.15, 0.166], [1.45, 0.08], [2.04, 0.038], [2.84, 0.017], [4.03, 0.0088], [5.22, 0.0058], [7.0, 0.0042], [9.98, 0.0029], [13.9, 0.0023]];
const P6_UNIFORM: Pt[] = [[0.5, 0.45], [1.15, 0.19], [2.38, 0.096], [4.78, 0.038], [9.62, 0.0098], [19.27, 0.0044]];
const P6_PTS_ASMRPP: Pt[] = [[13.0, 0.0025], [13.9, 0.0024], [15.1, 0.0026], [15.5, 0.0025], [16.3, 0.0024], [16.9, 0.0025], [17.2, 0.0024], [18.1, 0.0024], [18.9, 0.0024], [19.5, 0.0024], [20.0, 0.0024]];
const P6_PTS_SINGLE: Pt[] = [[4.13, 0.97], [3.63, 0.73], [3.33, 0.66], [2.84, 0.51], [3.43, 0.48], [2.24, 0.45], [1.94, 0.43], [1.45, 0.46], [0.95, 0.47], [2.54, 0.42], [2.94, 0.4], [3.04, 0.34], [4.03, 0.4], [4.42, 0.35], [4.82, 0.36], [5.12, 0.33], [5.71, 0.49], [5.62, 0.35], [5.81, 0.26], [6.21, 0.27], [7.2, 0.41], [7.5, 0.45], [7.8, 0.27], [6.81, 0.23], [6.5, 0.19], [7.2, 0.13], [7.7, 0.12], [4.62, 0.31], [3.83, 0.29], [4.42, 0.26], [3.53, 0.22], [2.64, 0.19], [2.24, 0.23], [3.63, 0.105], [4.03, 0.11], [4.52, 0.1], [5.22, 0.126], [4.82, 0.066], [4.92, 0.055], [4.42, 0.042], [4.03, 0.035], [3.93, 0.03], [5.62, 0.021], [7.2, 0.035], [2.44, 0.06], [2.64, 0.05], [2.64, 0.04], [1.45, 0.095], [1.85, 0.08]];
const P6_PTS_ORACLE: Pt[] = [[0.6, 0.3], [0.75, 0.2], [0.85, 0.14], [0.95, 0.1], [1.05, 0.08], [1.15, 0.06], [1.25, 0.046], [1.4, 0.035], [1.65, 0.026], [1.9, 0.02], [2.24, 0.015], [2.6, 0.012], [3.04, 0.0088], [3.5, 0.0068], [4.03, 0.005], [4.5, 0.0046], [5.02, 0.0042], [6.01, 0.0038], [7.0, 0.0032], [8.0, 0.0029], [8.99, 0.0028], [9.98, 0.0027], [11.0, 0.0026], [12.2, 0.0024], [13.2, 0.0025]];
const P6_PTS_ASMR: Pt[] = [[8.0, 0.0042], [8.4, 0.004], [15.3, 0.0027], [20.7, 0.0022], [21.0, 0.0022], [21.3, 0.0022], [21.6, 0.0021]];
const P6_PTS_VDGN: Pt[] = [[0.26, 1.0], [0.75, 0.41], [2.04, 0.27], [2.64, 0.25], [2.24, 0.115], [4.56, 0.14], [6.96, 0.093], [4.56, 0.054], [4.42, 0.0088], [8.55, 0.018], [12.66, 0.054], [17.56, 0.0045], [20.6, 0.0023]];
const P6_PTS_MAXORA: Pt[] = [[1.2, 0.06], [1.6, 0.04], [2.04, 0.026], [2.3, 0.024], [2.64, 0.02], [2.9, 0.021], [3.23, 0.018], [3.4, 0.017], [3.63, 0.015], [3.9, 0.014], [4.03, 0.0128], [4.42, 0.0116], [4.6, 0.011], [4.82, 0.0088], [5.1, 0.0085], [5.42, 0.007], [5.8, 0.0072], [6.01, 0.0067], [6.5, 0.0056]];
const P6_PTS_SWEEP: Pt[] = [[1.15, 0.24], [1.19, 0.16], [1.45, 0.12], [4.82, 0.048], [5.58, 0.025], [9.25, 0.023], [9.62, 0.0127]];
const P6_PTS_ZZ: Pt[] = [[1.05, 0.2], [1.25, 0.125], [1.65, 0.066], [2.24, 0.032], [2.84, 0.018], [4.42, 0.0088]];

// ---------------- panel definitions (data refs + axis ranges) ----------------
const PANELS = [
  {
    title: "Poisson\u2019s Equation", xMin: -0.55, xMax: 11.44, xTicks: P1_X_TICKS, yTop: 0.675, yBottom: -5.8, yExps: P1_Y_EXPS,
    fits: [P1_FIT_ASMRPP, P1_FIT_SINGLE, P1_FIT_ORACLE, P1_FIT_ASMR, P1_FIT_VDGN, P1_FIT_MAXORA, P1_FIT_SWEEP, P1_FIT_ZZ],
    pts: [P1_PTS_ASMRPP, P1_PTS_SINGLE, P1_PTS_ORACLE, P1_PTS_ASMR, P1_PTS_VDGN, P1_PTS_MAXORA, P1_PTS_SWEEP, P1_PTS_ZZ],
    uniform: P1_UNIFORM,
  },
  {
    title: "Stokes Flow", xMin: -0.44, xMax: 10.3, xTicks: P2_X_TICKS, yTop: 0.855, yBottom: -5.855, yExps: P2_Y_EXPS,
    fits: [P2_FIT_ASMRPP, P2_FIT_SINGLE, P2_FIT_ORACLE, P2_FIT_ASMR, P2_FIT_VDGN, P2_FIT_MAXORA, P2_FIT_SWEEP, P2_FIT_ZZ],
    pts: [P2_PTS_ASMRPP, P2_PTS_SINGLE, P2_PTS_ORACLE, P2_PTS_ASMR, P2_PTS_VDGN, P2_PTS_MAXORA, P2_PTS_SWEEP, P2_PTS_ZZ],
    uniform: P2_UNIFORM,
  },
  {
    title: "Linear Elasticity", xMin: -0.57, xMax: 12.47, xTicks: P3_X_TICKS, yTop: 0.637, yBottom: -4.367, yExps: P3_Y_EXPS,
    fits: [P3_FIT_ASMRPP, P3_FIT_SINGLE, P3_FIT_ORACLE, P3_FIT_ASMR, P3_FIT_VDGN, P3_FIT_MAXORA, P3_FIT_SWEEP, P3_FIT_ZZ],
    pts: [P3_PTS_ASMRPP, P3_PTS_SINGLE, P3_PTS_ORACLE, P3_PTS_ASMR, P3_PTS_VDGN, P3_PTS_MAXORA, P3_PTS_SWEEP, P3_PTS_ZZ],
    uniform: P3_UNIFORM,
  },
  {
    title: "Heat Diffusion", xMin: -0.42, xMax: 9.35, xTicks: P4_X_TICKS, yTop: 0.286, yBottom: -5.88, yExps: P4_Y_EXPS,
    fits: [P4_FIT_ASMRPP, P4_FIT_SINGLE, P4_FIT_ORACLE, P4_FIT_ASMR, P4_FIT_VDGN, P4_FIT_MAXORA, P4_FIT_SWEEP, P4_FIT_ZZ],
    pts: [P4_PTS_ASMRPP, P4_PTS_SINGLE, P4_PTS_ORACLE, P4_PTS_ASMR, P4_PTS_VDGN, P4_PTS_MAXORA, P4_PTS_SWEEP, P4_PTS_ZZ],
    uniform: P4_UNIFORM,
  },
  {
    title: "Neumann Boundaries", xMin: -0.83, xMax: 18.16, xTicks: P5_X_TICKS, yTop: 0.407, yBottom: -5.139, yExps: P5_Y_EXPS,
    fits: [P5_FIT_ASMRPP, P5_FIT_SINGLE, P5_FIT_ORACLE, P5_FIT_ASMR, P5_FIT_VDGN, P5_FIT_MAXORA, P5_FIT_SWEEP, P5_FIT_ZZ],
    pts: [P5_PTS_ASMRPP, P5_PTS_SINGLE, P5_PTS_ORACLE, P5_PTS_ASMR, P5_PTS_VDGN, P5_PTS_MAXORA, P5_PTS_SWEEP, P5_PTS_ZZ],
    uniform: P5_UNIFORM,
  },
  {
    title: "3d Poisson\u2019s Equation", xMin: -0.77, xMax: 22.68, xTicks: P6_X_TICKS, yTop: 0.167, yBottom: -2.93, yExps: P6_Y_EXPS,
    fits: [P6_FIT_ASMRPP, P6_FIT_SINGLE, P6_FIT_ORACLE, P6_FIT_ASMR, P6_FIT_VDGN, P6_FIT_MAXORA, P6_FIT_SWEEP, P6_FIT_ZZ],
    pts: [P6_PTS_ASMRPP, P6_PTS_SINGLE, P6_PTS_ORACLE, P6_PTS_ASMR, P6_PTS_VDGN, P6_PTS_MAXORA, P6_PTS_SWEEP, P6_PTS_ZZ],
    uniform: P6_UNIFORM,
  },
];

// ---------------- layout (positions / sizes) ----------------
const LAYOUTS = [
  { left: 97, top: 146, width: 392, height: 259, titleBaseline: 131, yLabel: true, xLabel: false },
  { left: 576, top: 146, width: 394, height: 259, titleBaseline: 136, yLabel: false, xLabel: false },
  { left: 97, top: 480, width: 392, height: 259, titleBaseline: 465, yLabel: true, xLabel: false },
  { left: 576, top: 480, width: 394, height: 259, titleBaseline: 470, yLabel: false, xLabel: false },
  { left: 97, top: 814, width: 392, height: 259, titleBaseline: 805, yLabel: true, xLabel: true },
  { left: 576, top: 814, width: 394, height: 259, titleBaseline: 798, yLabel: false, xLabel: true },
];
const PAD_L = 80;
const PAD_T = 10;
const PAD_R = 8;
const PAD_B = 42;
const SERIF = "'Liberation Serif', 'Times New Roman', serif";
const LINE_ORDER = [1, 8, 2, 3, 5, 7, 4, 6];

const SUP: Record<string, string> = { "0": "\u2070", "1": "\u00b9", "2": "\u00b2", "3": "\u00b3", "4": "\u2074", "5": "\u2075", "6": "\u2076", "-": "\u207b" };
const expLabel = (e: number) => "10" + String(e).split("").map((c) => SUP[c] || c).join("");

function rgba(hex: string, a: number) {
  const n = parseInt(hex.slice(1), 16);
  return `rgba(${(n >> 16) & 255},${(n >> 8) & 255},${n & 255},${a})`;
}
const toXY = (a: Pt[]) => a.map(([x, y]) => ({ x, y }));

// frame + mathtext-like y tick labels ("10" with a raised exponent)
const framePlugin = {
  id: "frameBox",
  beforeUpdate(chart: any) {
    chart.ctx.letterSpacing = "2px";
  },
  beforeDraw(chart: any) {
    chart.ctx.letterSpacing = "2px";
  },
  afterDraw(chart: any) {
    const { ctx, chartArea } = chart;
    ctx.save();
    ctx.strokeStyle = "#1a1a1a";
    ctx.lineWidth = 1.3;
    ctx.strokeRect(chartArea.left, chartArea.top, chartArea.right - chartArea.left, chartArea.bottom - chartArea.top);
    const ys = chart.scales.y;
    ctx.fillStyle = "#222";
    ctx.textBaseline = "alphabetic";
    ctx.textAlign = "left";
    ys.ticks.forEach((t: any) => {
      const py = ys.getPixelForValue(t.value);
      const e = Math.round(Math.log10(t.value));
      const expStr = e < 0 ? "\u2212" + String(-e) : String(e);
      ctx.letterSpacing = "2px";
      ctx.font = `10.5px ${SERIF}`;
      const expW = ctx.measureText(expStr).width;
      ctx.font = `14px ${SERIF}`;
      const baseW = ctx.measureText("10").width;
      const right = chartArea.left - 20;
      const expX = right - expW;
      const baseX = expX - baseW - 0.5;
      ctx.fillText("10", baseX, py + 8);
      ctx.font = `10.5px ${SERIF}`;
      ctx.fillText(expStr, expX, py + 2);
    });
    ctx.restore();
  },
};

function PanelChart({ def, lay }: { def: any; lay: any }) {
  const ref = useRef<HTMLCanvasElement | null>(null);
  const cw = lay.width + PAD_L + PAD_R;
  const ch = lay.height + PAD_T + PAD_B;

  useEffect(() => {
    if (!ref.current) return;
    const datasets: any[] = [];
    datasets.push({
      label: UNIFORM_LABEL,
      data: toXY(def.uniform),
      showLine: false,
      pointStyle: "crossRot",
      pointRadius: 6.5,
      pointBorderWidth: 3.2,
      pointBorderColor: "#000",
      pointBackgroundColor: "#000",
      borderColor: "#000",
      order: 0,
    });
    def.fits.forEach((f: Pt[], i: number) => {
      datasets.push({
        label: METHOD_LABELS[i],
        data: toXY(f),
        showLine: true,
        borderColor: METHOD_COLORS[i],
        backgroundColor: METHOD_COLORS[i],
        borderWidth: 2.8,
        pointRadius: 0,
        pointHoverRadius: 0,
        cubicInterpolationMode: "monotone",
        fill: false,
        order: LINE_ORDER[i],
      });
    });
    def.pts.forEach((p: Pt[], i: number) => {
      datasets.push({
        label: METHOD_LABELS[i] + " runs",
        data: toXY(p),
        showLine: false,
        pointRadius: 3.2,
        pointBorderWidth: 0,
        pointBackgroundColor: rgba(METHOD_COLORS[i], i === 2 ? 0.45 : 0.5),
        backgroundColor: rgba(METHOD_COLORS[i], 0.5),
        order: 20 + i,
      });
    });

    const chart = new Chart(ref.current, {
      type: "scatter",
      data: { datasets },
      plugins: [framePlugin],
      options: {
        animation: false,
        responsive: false,
        maintainAspectRatio: false,
        devicePixelRatio: 1,
        events: [],
        layout: { padding: { left: 0, top: PAD_T, right: PAD_R, bottom: 0 } },
        plugins: { legend: { display: false }, tooltip: { enabled: false }, title: { display: false } },
        scales: {
          x: {
            type: "linear",
            min: def.xMin,
            max: def.xMax,
            afterBuildTicks: (s: any) => {
              s.ticks = def.xTicks.map((v: number) => ({ value: v }));
            },
            afterFit: (s: any) => {
              s.height = PAD_B;
            },
            ticks: {
              callback: (v: any) => Number(v).toFixed(1),
              font: { family: SERIF, size: 13.5 },
              color: "#222",
              padding: 6,
              maxRotation: 0,
              autoSkip: false,
            },
            grid: { color: "#b8b8b8", lineWidth: 1, drawTicks: true, tickLength: 11, tickColor: "#333", tickWidth: 1 },
            border: { display: false },
          },
          y: {
            type: "logarithmic",
            min: Math.pow(10, def.yBottom),
            max: Math.pow(10, def.yTop),
            afterBuildTicks: (s: any) => {
              s.ticks = def.yExps.map((e: number) => ({ value: Math.pow(10, e) }));
            },
            afterFit: (s: any) => {
              s.width = PAD_L;
            },
            ticks: {
              callback: (v: any) => expLabel(Math.round(Math.log10(Number(v)))),
              font: { family: SERIF, size: 13 },
              color: "rgba(0,0,0,0)",
              padding: 8,
              autoSkip: false,
            },
            grid: { color: "#b8b8b8", lineWidth: 1, drawTicks: true, tickLength: 11, tickColor: "#333", tickWidth: 1 },
            border: { display: false },
          },
        },
      } as any,
    });
    return () => chart.destroy();
  }, []);

  const cx = lay.left + lay.width / 2;
  const cy = lay.top + lay.height / 2;
  return (
    <>
      <canvas
        ref={ref}
        width={cw}
        height={ch}
        style={{ position: "absolute", left: lay.left - PAD_L, top: lay.top - PAD_T, width: cw, height: ch }}
      />
      <div
        style={{
          position: "absolute", left: cx, top: lay.titleBaseline - 21.8, transform: "translateX(-50%)",
          fontFamily: SERIF, fontSize: 26, lineHeight: "26px", letterSpacing: "1px", whiteSpace: "nowrap", color: "#111",
        }}
      >
        {def.title}
      </div>
      {lay.yLabel && (
        <div
          style={{
            position: "absolute", left: 19, top: cy, transform: "translate(-50%, -50%) rotate(-90deg)",
            fontFamily: SERIF, fontSize: 25, lineHeight: "25px", letterSpacing: "0.8px", whiteSpace: "nowrap", color: "#111",
          }}
        >
          Squared error
        </div>
      )}
      {lay.xLabel && (
        <div
          style={{
            position: "absolute", left: cx, top: 1112, transform: "translateX(-50%)",
            fontFamily: SERIF, fontSize: 25, lineHeight: "25px", letterSpacing: "0.8px", whiteSpace: "nowrap", color: "#111",
          }}
        >
          Elements (×10<sup style={{ fontSize: 16, verticalAlign: "10px", lineHeight: 0 }}>3</sup>)
        </div>
      )}
    </>
  );
}

// ---------------- legend ----------------
const LEGEND_ROWS = [16, 47, 79];
const LEGEND_LINE_X = [32, 372, 702];
const LEGEND_TEXT_X = [96, 436, 767];
const LEGEND_ENTRIES = [
  { kind: "line", method: 0 },
  { kind: "line", method: 1 },
  { kind: "line", method: 2 },
  { kind: "line", method: 3 },
  { kind: "line", method: 4 },
  { kind: "line", method: 5 },
  { kind: "marker", method: -1 },
  { kind: "line", method: 6 },
  { kind: "line", method: 7 },
];

function Legend() {
  return (
    <>
      {LEGEND_ENTRIES.map((e, k) => {
        const col = Math.floor(k / 3);
        const row = k % 3;
        const y = LEGEND_ROWS[row];
        const label = e.kind === "marker" ? UNIFORM_LABEL : METHOD_LABELS[e.method];
        return (
          <React.Fragment key={k}>
            {e.kind === "line" ? (
              <div style={{ position: "absolute", left: LEGEND_LINE_X[col], top: y - 1.5, width: 46, height: 3, background: METHOD_COLORS[e.method] }} />
            ) : (
              <svg style={{ position: "absolute", left: LEGEND_LINE_X[col] + 18, top: y - 5 }} width={10} height={10}>
                <line x1={1.5} y1={1.5} x2={8.5} y2={8.5} stroke="#000" strokeWidth={2.6} />
                <line x1={8.5} y1={1.5} x2={1.5} y2={8.5} stroke="#000" strokeWidth={2.6} />
              </svg>
            )}
            <div
              style={{
                position: "absolute", left: LEGEND_TEXT_X[col], top: y - 12.5, fontFamily: SERIF, fontSize: 24,
                lineHeight: "24px", letterSpacing: "1px", whiteSpace: "nowrap", color: "#111",
              }}
            >
              {e.method === 0 ? (
                <>
                  <b>ASMR</b>++ (Ours)
                </>
              ) : (
                label
              )}
            </div>
          </React.Fragment>
        );
      })}
    </>
  );
}

export default function App() {
  return (
    <div style={{ position: "absolute", left: 0, top: 0, width: 979, height: 1148, background: "#fff", overflow: "hidden" }}>
      <Legend />
      {PANELS.map((p, i) => (
        <PanelChart key={i} def={p} lay={LAYOUTS[i]} />
      ))}
    </div>
  );
}
